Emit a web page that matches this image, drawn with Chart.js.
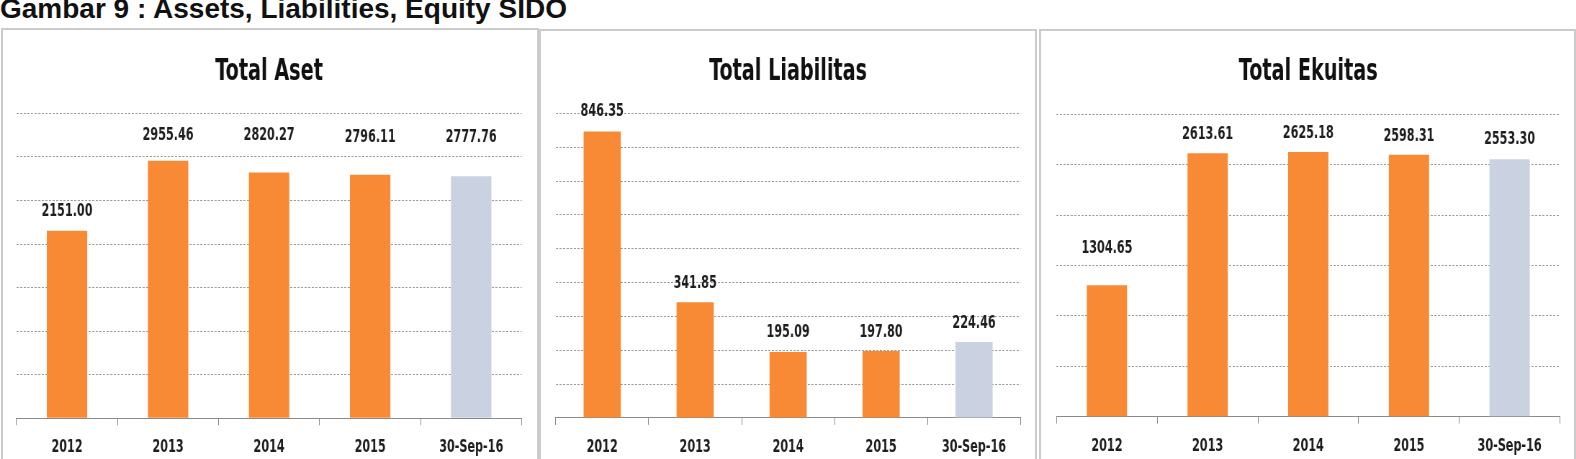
<!DOCTYPE html>
<html>
<head>
<meta charset="utf-8">
<title>Assets, Liabilities, Equity SIDO</title>
<script src="https://cdn.jsdelivr.net/npm/chart.js@4.4.1/dist/chart.umd.min.js"></script>
<style>
    html, body { margin: 0; padding: 0; background: #ffffff; }
    body { width: 1576px; height: 459px; position: relative; overflow: hidden; }
    .heading {
        position: absolute; left: 0; top: -5px;
        font: bold 28px/28px 'Liberation Sans', Arial, sans-serif;
        color: #111111; white-space: nowrap;
    }
    .panel { position: absolute; border: 2px solid #cbcbcb; box-sizing: border-box; height: 460px; }
    canvas { position: absolute; top: 30px; transform-origin: 0 0; }
</style>
</head>
<body>
<div class="heading">Gambar 9 : Assets, Liabilities, Equity SIDO</div>
<div class="panel" style="left:1px; top:28px; width:538px;"></div>
<div class="panel" style="left:539px; top:29px; width:498px;"></div>
<div class="panel" style="left:1039px; top:29px; width:537px;"></div>
<canvas id="asetChart"></canvas>
<canvas id="liabChart"></canvas>
<canvas id="ekuitasChart"></canvas>

<script>
// values in billion rupiah
const periods = ['2012', '2013', '2014', '2015', '30-Sep-16'];
const totalAset = [2151.00, 2955.46, 2820.27, 2796.11, 2777.76];
const totalLiabilitas = [846.35, 341.85, 195.09, 197.80, 224.46];
const totalEkuitas = [1304.65, 2613.61, 2625.18, 2598.31, 2553.30];

const ORANGE = '#f98a35';
const GREY = '#cad2e2';
const FONT = "'DejaVu Sans Condensed', 'DejaVu Sans', sans-serif";
// the source uses a narrow Calibri-like face; canvases are drawn wide and squeezed horizontally
const SQUEEZE = 0.72;
const CANVAS_H = 440;

// draws the value above each bar (gap = px between label baseline and bar top)
const valueLabels = {
    id: 'valueLabels',
    afterDatasetsDraw(chart, args, opts) {
        const ctx = chart.ctx;
        const meta = chart.getDatasetMeta(0);
        const values = chart.data.datasets[0].data;
        ctx.save();
        ctx.font = 'bold 17.3px ' + FONT;
        ctx.fillStyle = '#1e1e1e';
        ctx.textAlign = 'center';
        ctx.textBaseline = 'alphabetic';
        meta.data.forEach((bar, i) => {
            const gap = opts.gaps ? opts.gaps[i] : 14;
            ctx.fillText(values[i].toFixed(2), bar.x, bar.y - gap);
        });
        ctx.restore();
    }
};

// box: page-pixel placement of the canvas and its plot area
function makeChart(id, title, values, max, step, box, gaps) {
    const canvas = document.getElementById(id);
    canvas.width = Math.round(box.width / SQUEEZE);
    canvas.height = CANVAS_H;
    canvas.style.left = box.left + 'px';
    canvas.style.transform = 'scaleX(' + SQUEEZE + ')';

    return new Chart(canvas.getContext('2d'), {
        type: 'bar',
        data: {
            labels: periods,
            datasets: [{
                data: values,
                backgroundColor: periods.map((p, i) => i === periods.length - 1 ? GREY : ORANGE),
                borderWidth: 0,
                barPercentage: 0.4,
                categoryPercentage: 1
            }]
        },
        options: {
            responsive: false,
            animation: false,
            layout: {
                padding: {
                    left: box.padLeft / SQUEEZE,
                    right: box.padRight / SQUEEZE,
                    top: 0,
                    bottom: box.padBottom
                }
            },
            scales: {
                x: {
                    grid: { drawOnChartArea: false, drawTicks: true, tickLength: 7, color: '#8a8a8a' },
                    border: { color: '#8a8a8a', width: 1 },
                    ticks: {
                        color: '#1e1e1e',
                        padding: 12,
                        maxRotation: 0,
                        minRotation: 0,
                        autoSkip: false,
                        font: { family: FONT, size: 17.3, weight: 'bold' }
                    }
                },
                y: {
                    min: 0,
                    max: max,
                    ticks: { display: false, stepSize: step },
                    grid: { color: '#9c9c9c', drawTicks: false, lineWidth: 1 },
                    border: { display: false, dash: [3, 2] }
                }
            },
            plugins: {
                legend: { display: false },
                tooltip: { enabled: false },
                title: {
                    display: true,
                    text: title,
                    color: '#111111',
                    font: { family: FONT, size: 29.7, weight: 'bold' },
                    padding: { top: 24, bottom: box.titleGap }
                },
                valueLabels: { gaps: gaps }
            }
        },
        plugins: [valueLabels]
    });
}

function initCharts() {
    makeChart('asetChart', 'Total Aset', totalAset, 3500, 500,
        { left: 0, width: 540, padLeft: 16.5, padRight: 18.3, padBottom: 0.0, titleGap: 23.7 },
        [14.4, 21, 32.7, 32.6, 34]);
    makeChart('liabChart', 'Total Liabilitas', totalLiabilitas, 900, 100,
        { left: 540, width: 497, padLeft: 15.7, padRight: 16.3, padBottom: 0.3, titleGap: 23.7 },
        [15.4, 14, 15, 14.4, 14]);
    makeChart('ekuitasChart', 'Total Ekuitas', totalEkuitas, 3000, 500,
        { left: 1039, width: 537, padLeft: 17.6, padRight: 16.2, padBottom: 1.6, titleGap: 24.7 },
        [31.7, 14, 14.6, 14.3, 15]);
}

document.addEventListener('DOMContentLoaded', initCharts);
</script>
</body>
</html>
